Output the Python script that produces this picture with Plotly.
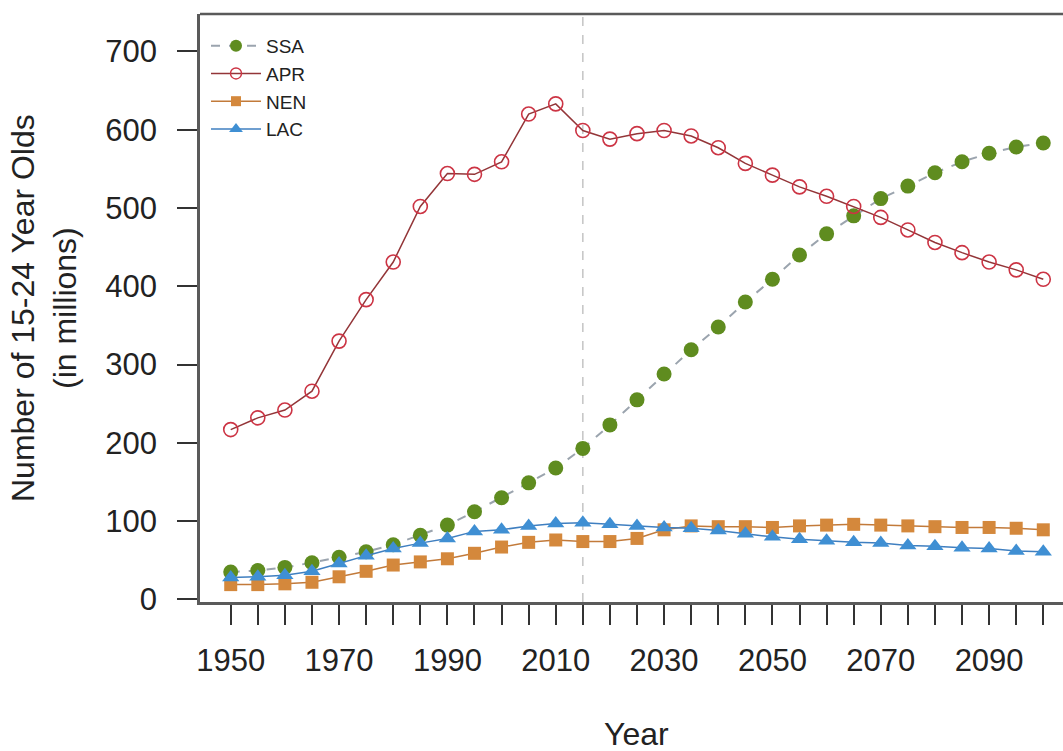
import plotly.graph_objects as go

# Years (every 5 years)
years = [1950, 1955, 1960, 1965, 1970, 1975, 1980, 1985, 1990, 1995,
         2000, 2005, 2010, 2015, 2020, 2025, 2030, 2035, 2040, 2045,
         2050, 2055, 2060, 2065, 2070, 2075, 2080, 2085, 2090, 2095, 2100]

# Number of 15-24 year olds, millions
ssa = [35, 37, 41, 47, 54, 61, 70, 82, 95, 112, 130, 149, 168, 193, 223, 255,
       288, 319, 348, 380, 409, 440, 467, 490, 512, 528, 545, 559, 570, 578, 583]
apr = [217, 232, 242, 266, 330, 383, 431, 502, 544, 543, 559, 620, 633, 599, 588, 595,
       599, 592, 577, 557, 542, 527, 515, 502, 488, 472, 456, 443, 431, 421, 409]
nen = [19, 19, 20, 22, 29, 36, 44, 48, 52, 59, 67, 73, 76, 74, 74, 78,
       89, 94, 93, 93, 92, 94, 95, 96, 95, 94, 93, 92, 92, 91, 89]
lac = [28, 29, 31, 36, 46, 56, 65, 72, 78, 87, 89, 94, 97, 98, 96, 94,
       92, 91, 88, 84, 80, 77, 75, 73, 72, 69, 68, 66, 65, 62, 61]

labelled_years = [1950, 1970, 1990, 2010, 2030, 2050, 2070, 2090]
y_ticks = [0, 100, 200, 300, 400, 500, 600, 700]
projection_start = 2015

FONT = "Liberation Sans, Arial, Helvetica, sans-serif"

series = [
    # name, values, marker symbol, marker colour, line colour, dash, marker size
    ("SSA", ssa, "circle", "#5f8c1f", "#9ba4ae", "dash", 15),
    ("APR", apr, "circle-open", "#cc3444", "#933538", "solid", 14),
    ("NEN", nen, "square", "#d4883c", "#c27a3a", "solid", 13),
    ("LAC", lac, "triangle-up", "#3f8fd3", "#3f7fc0", "solid", 15),
]

fig = go.Figure()

for name, vals, sym, mcol, lcol, dash, size in series:
    mline = dict(color=mcol, width=1.6) if sym.endswith("open") else dict(width=0)
    fig.add_trace(go.Scatter(
        x=years, y=vals, mode="lines+markers", name=name, showlegend=False,
        line=dict(color=lcol, width=2 if dash == "dash" else 1.5, dash=dash),
        marker=dict(symbol=sym, size=size, color=mcol, line=mline),
    ))

# legend-only entries with smaller markers, like the original key
for name, vals, sym, mcol, lcol, dash, size in series:
    mline = dict(color=mcol, width=1.4) if sym.endswith("open") else dict(width=0)
    fig.add_trace(go.Scatter(
        x=[None], y=[None], mode="lines+markers", name=name,
        line=dict(color=lcol, width=2 if dash == "dash" else 1.5, dash=dash),
        marker=dict(symbol=sym, size=size - 3, color=mcol, line=mline),
    ))

# dashed line marking where projections start
fig.add_shape(type="line", xref="x", yref="paper", x0=projection_start, x1=projection_start,
              y0=0, y1=1, line=dict(color="#c4c4c4", width=1.5, dash="dash"), layer="below")
# top border of the box
fig.add_shape(type="line", xref="paper", yref="paper", x0=0, x1=1, y0=1, y1=1,
              line=dict(color="#5a5a5a", width=2.5))

tick_text = [str(y) if y in labelled_years else "" for y in years]

fig.update_layout(
    width=1063, height=751,
    margin=dict(l=200, r=0, t=14, b=149),
    plot_bgcolor="white", paper_bgcolor="white",
    font=dict(family=FONT, size=31, color="#222222"),
    xaxis=dict(
        range=[1944.33, 2103.64], tickmode="array", tickvals=years, ticktext=tick_text,
        ticks="outside", ticklen=20, tickwidth=2, tickcolor="#333333",
        showline=True, linecolor="#5a5a5a", linewidth=2.5,
        showgrid=False, zeroline=False, ticklabelstandoff=9,
    ),
    yaxis=dict(
        range=[-3.2, 747.8], tickmode="array", tickvals=y_ticks,
        ticks="outside", ticklen=20, tickwidth=2, tickcolor="#333333",
        showline=True, linecolor="#5a5a5a", linewidth=2.5,
        showgrid=False, zeroline=False, ticklabelstandoff=14,
    ),
    legend=dict(
        x=6 / 863, y=0.978, xanchor="left", yanchor="top",
        bgcolor="rgba(0,0,0,0)", font=dict(size=19, family=FONT, color="#222222"),
        tracegroupgap=0, itemwidth=50,
    ),
    annotations=[
        dict(text="Number of 15-24 Year Olds<br>(in millions)", textangle=-90,
             xref="paper", yref="paper", x=(44 - 200) / 863, y=0.5,
             xanchor="center", yanchor="middle", showarrow=False,
             font=dict(size=32, family=FONT, color="#222222")),
        dict(text="Year", xref="paper", yref="paper", x=(636.5 - 200) / 863, y=-0.191,
             xanchor="center", yanchor="top", showarrow=False,
             font=dict(size=32, family=FONT, color="#222222")),
    ],
)

fig.write_html("out.html", config={"displayModeBar": False},
               post_script="document.body.style.margin='0px';")
